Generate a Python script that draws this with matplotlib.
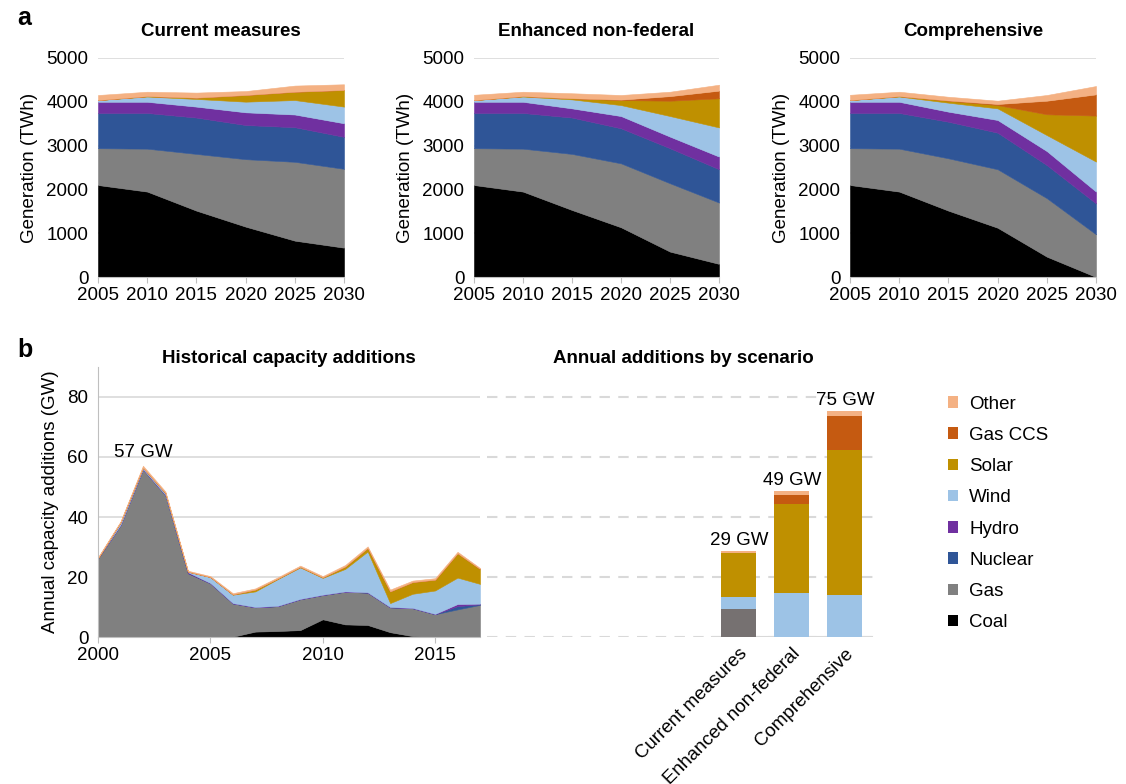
import matplotlib.pyplot as plt
from matplotlib.patches import Patch
import numpy as np

plt.rcParams['font.family'] = ['Liberation Sans', 'DejaVu Sans']
plt.rcParams['font.size'] = 13.5

# Technology order, bottom of the stack first
techs = ['Coal', 'Gas', 'Nuclear', 'Hydro', 'Wind', 'Solar', 'Gas CCS', 'Other']
tech_colors = ['#000000', '#808080', '#2f5597', '#7030a0',
               '#9dc3e6', '#bf9000', '#c55a11', '#f4b183']

# Panel a: generation by scenario (TWh)
scenario_years = [2005, 2010, 2015, 2020, 2025, 2030]

current_measures = {
    'Coal':    [2100, 1950, 1515, 1150, 830, 670],
    'Gas':     [840, 980, 1295, 1540, 1800, 1800],
    'Nuclear': [805, 815, 830, 780, 790, 730],
    'Hydro':   [255, 255, 250, 290, 290, 310],
    'Wind':    [40, 120, 175, 243, 330, 380],
    'Solar':   [0, 10, 30, 152, 190, 380],
    'Gas CCS': [0, 0, 0, 0, 0, 0],
    'Other':   [115, 100, 115, 90, 140, 130],
}
enhanced_non_federal = {
    'Coal':    [2100, 1950, 1530, 1135, 580, 300],
    'Gas':     [840, 980, 1280, 1460, 1560, 1400],
    'Nuclear': [805, 815, 830, 800, 800, 760],
    'Hydro':   [255, 255, 210, 280, 265, 290],
    'Wind':    [40, 120, 205, 250, 470, 665],
    'Solar':   [0, 10, 25, 115, 350, 665],
    'Gas CCS': [0, 0, 0, 10, 105, 175],
    'Other':   [120, 100, 115, 105, 100, 135],
}
comprehensive = {
    'Coal':    [2100, 1950, 1515, 1125, 465, 0],
    'Gas':     [840, 980, 1195, 1335, 1335, 975],
    'Nuclear': [805, 815, 835, 835, 755, 705],
    'Hydro':   [255, 255, 230, 290, 320, 270],
    'Wind':    [40, 120, 205, 265, 365, 685],
    'Solar':   [0, 10, 45, 75, 475, 1050],
    'Gas CCS': [0, 0, 5, 25, 310, 485],
    'Other':   [120, 100, 85, 75, 130, 190],
}
scenario_titles = ['Current measures', 'Enhanced non-federal', 'Comprehensive']

# Panel b: historical capacity additions (GW)
hist_years = list(range(2000, 2018))
hist_coal = [0, 0, 0, 0, 0, 0, 0.1, 1.8, 2.0, 2.3, 5.9, 4.2, 4.0, 1.6, 0.3, 0, 0, 0]
hist_gas = [26.2, 37.3, 55.9, 47.3, 21.3, 17.9, 11.1, 8.1, 8.3, 10.3,
            8.1, 10.9, 10.8, 8.3, 9.3, 7.6, 9.2, 10.7]
hist_nuclear = [0] * 16 + [1.1, 0.2]
hist_hydro = [0.1, 0.1, 0.1, 0.1, 0.3, 0.1, 0.1, 0.1, 0.1, 0.1,
              0.1, 0.1, 0.1, 0.1, 0.1, 0.1, 0.7, 0.2]
hist_wind = [0, 0.8, 0.5, 0.6, 0.2, 2.0, 2.8, 5.2, 8.9, 10.5,
             5.6, 7.5, 13.6, 1.3, 4.7, 7.8, 8.8, 6.6]
hist_solar = [0, 0, 0, 0, 0, 0, 0.1, 0.6, 0.2, 0.2,
              0.2, 0.8, 1.2, 3.9, 3.9, 3.6, 8.1, 5.0]
hist_ccs = [0] * 18
hist_other = [0.3, 0.3, 0.6, 0.5, 0.3, 0.3, 0.4, 0.4, 0.4, 0.4,
              0.4, 0.5, 0.5, 0.6, 0.5, 0.5, 0.5, 0.3]

# Panel b: annual additions by scenario (GW)
bar_labels = ['Current measures', 'Enhanced non-federal', 'Comprehensive']
bar_gas = [9.2, 0, 0]
bar_wind = [4.2, 14.8, 14.1]
bar_solar = [14.5, 29.4, 48.2]
bar_ccs = [0, 3.1, 11.4]
bar_other = [0.8, 1.4, 1.7]

W, H = 1126, 784
fig = plt.figure(figsize=(W / 100, H / 100), dpi=100)


def px_axes(left, top, right, bottom):
    return fig.add_axes([left / W, 1 - bottom / H, (right - left) / W, (bottom - top) / H])


grid_grey = '#d9d9d9'
spine_grey = '#bfbfbf'
title_size = 13.5

# --- panel a ---
top_axes = [px_axes(98, 58, 344, 277), px_axes(474, 58, 719, 277), px_axes(850, 58, 1096, 277)]
for ax, data, title in zip(top_axes, [current_measures, enhanced_non_federal, comprehensive],
                           scenario_titles):
    ax.stackplot(scenario_years, *[data[t] for t in techs], colors=tech_colors,
                 linewidth=0.4, edgecolor='face')
    ax.set_xlim(2005, 2030)
    ax.set_ylim(0, 5000)
    ax.set_xticks(scenario_years)
    ax.set_yticks(range(0, 5001, 1000))
    ax.grid(axis='y', color=grid_grey, lw=1.2)
    ax.set_axisbelow(True)
    for s in ['top', 'right', 'left']:
        ax.spines[s].set_visible(False)
    ax.spines['bottom'].set_color(spine_grey)
    ax.tick_params(axis='x', length=4, color=spine_grey, pad=3)
    ax.tick_params(axis='y', length=0, pad=7)
    ax.set_ylabel('Generation (TWh)', labelpad=6)
    ax.set_title(title, fontweight='bold', fontsize=title_size, pad=16)

# --- panel b: history ---
ax_h = px_axes(98, 367, 480, 637)
hist_layers = [hist_coal, hist_gas, hist_nuclear, hist_hydro,
               hist_wind, hist_solar, hist_ccs, hist_other]
ax_h.stackplot(hist_years, *hist_layers, colors=tech_colors, linewidth=0.4, edgecolor='face')
ax_h.set_xlim(2000, 2017)
ax_h.set_ylim(0, 90)
ax_h.set_yticks(range(0, 81, 20))
ax_h.set_xticks([2000, 2005, 2010, 2015])
ax_h.grid(axis='y', color=grid_grey, lw=1.2)
ax_h.set_axisbelow(True)
for s in ['top', 'right']:
    ax_h.spines[s].set_visible(False)
ax_h.spines['left'].set_color(spine_grey)
ax_h.spines['bottom'].set_color(spine_grey)
ax_h.tick_params(axis='x', length=4, color=spine_grey, pad=3)
ax_h.tick_params(axis='y', length=0, pad=7)
ax_h.set_ylabel('Annual capacity additions (GW)', labelpad=6)
ax_h.set_title('Historical capacity additions', fontweight='bold', fontsize=title_size, pad=1.5)

hist_total = np.sum(hist_layers, axis=0)
peak = int(np.argmax(hist_total))
ax_h.text(hist_years[peak], hist_total[peak] + 1.5, f'{round(hist_total[peak])} GW',
          ha='center', va='bottom')

# --- panel b: scenario bars ---
ax_b = px_axes(487, 367, 880, 637)
x = np.arange(len(bar_labels))
bottom = np.zeros(len(x))
bar_stack = [('#767171', bar_gas), (tech_colors[4], bar_wind), (tech_colors[5], bar_solar),
             (tech_colors[6], bar_ccs), (tech_colors[7], bar_other)]
for color, vals in bar_stack:
    ax_b.bar(x, vals, width=0.66, bottom=bottom, color=color, zorder=3)
    bottom += np.array(vals)
for xi, total in zip(x, bottom):
    ax_b.text(xi, total + 0.6, f'{round(total)} GW', ha='center', va='bottom')

ax_b.set_xlim(-4.75, 2.66)
ax_b.set_ylim(0, 90)
for yv in range(0, 81, 20):
    ax_b.axhline(yv, color=grid_grey, lw=1.5, dashes=(5, 4), zorder=1)
ax_b.plot([-0.5, 2.5], [0, 0], color=grid_grey, lw=1.5, zorder=2)
for s in ax_b.spines.values():
    s.set_visible(False)
ax_b.set_yticks([])
ax_b.set_xticks(x)
ax_b.set_xticklabels(bar_labels, rotation=45, ha='right', rotation_mode='anchor')
ax_b.tick_params(axis='x', length=0, pad=6)
ax_b.set_title('Annual additions by scenario', fontweight='bold', fontsize=title_size, pad=1.5)

# legend, top entry first
handles = [Patch(facecolor=c, edgecolor='none') for c in tech_colors[::-1]]
fig.legend(handles, techs[::-1], loc='upper left', bbox_to_anchor=(940 / W, 1 - 388 / H),
           frameon=False, handlelength=0.55, handleheight=0.55, handletextpad=0.6,
           labelspacing=0.76, borderaxespad=0)

fig.text(17 / W, 1 - 18 / H, 'a', fontsize=18, fontweight='bold', va='center')
fig.text(17 / W, 1 - 350 / H, 'b', fontsize=18, fontweight='bold', va='center')

fig.savefig('out.png', dpi=100)
